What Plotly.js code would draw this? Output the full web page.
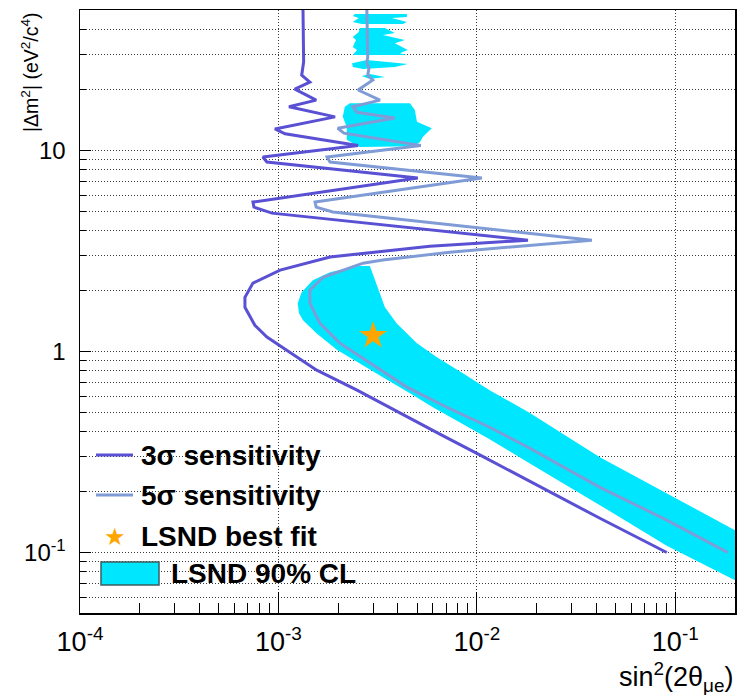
<!DOCTYPE html>
<html><head><meta charset="utf-8">
<script src="https://cdn.plot.ly/plotly-3.0.1.min.js"></script>
<style>html,body{margin:0;padding:0;background:#fff}#chart{width:737px;height:695px}</style>
</head><body><div id="chart"></div>
<script>
// ---- data (sin^2(2θ), |Δm^2| in eV^2) ----
const sens3X = [1.33e-3, 1.33e-3, 1.34e-3, 1.31e-3, 1.44e-3, 1.21e-3, 1.55e-3, 1.13e-3, 1.93e-3, 9.60e-4, 1.08e-3, 2.52e-3, 8.35e-4, 8.75e-4, 5.04e-3, 7.44e-4, 7.53e-4, 9.27e-4, 1.81e-2, 5.80e-3, 1.82e-3, 1.02e-3, 7.44e-4, 6.78e-4, 6.78e-4, 7.61e-4, 8.75e-4, 1.14e-3, 1.56e-3, 2.49e-3, 4.09e-3, 6.51e-3, 1.04e-2, 4.17e-2, 9.06e-2];
const sens3Y = [50, 35.5, 27.6, 23.7, 21.9, 20.2, 17.8, 16.5, 14.7, 12.8, 12.1, 10.6, 9.28, 8.76, 7.29, 5.54, 5.23, 4.88, 3.58, 3.34, 2.95, 2.54, 2.19, 1.86, 1.66, 1.35, 1.18, 0.992, 0.807, 0.642, 0.493, 0.388, 0.305, 0.148, 0.1];

const sens5X = [2.79e-3, 2.82e-3, 2.79e-3, 2.86e-3, 2.82e-3, 2.99e-3, 2.52e-3, 3.25e-3, 2.37e-3, 2.49e-3, 3.86e-3, 1.99e-3, 2.14e-3, 5.22e-3, 1.76e-3, 1.82e-3, 1.06e-2, 1.53e-3, 1.55e-3, 1.88e-3, 3.80e-2, 7.31e-3, 3.36e-3, 2.67e-3, 1.68e-3, 1.44e-3, 1.44e-3, 1.62e-3, 2.04e-3, 2.99e-3, 4.44e-3, 7.06e-3, 1.16e-2, 1.85e-2, 4.17e-2, 9.06e-2, 0.184];
const sens5Y = [50, 29.2, 27.2, 25.7, 23.7, 22.4, 20.0, 17.8, 16.5, 15.5, 14.5, 12.9, 12.2, 10.6, 9.28, 8.76, 7.29, 5.54, 5.23, 4.94, 3.58, 3.12, 2.85, 2.75, 2.34, 2.02, 1.74, 1.38, 1.10, 0.855, 0.665, 0.528, 0.420, 0.330, 0.211, 0.145, 0.1];

// LSND 90% CL allowed region: main band and high-Δm² islands
const lsndBandX = [2.49e-3, 1.82e-3, 1.49e-3, 1.31e-3, 1.25e-3, 1.27e-3, 1.33e-3, 1.56e-3, 1.97e-3, 2.49e-3, 3.36e-3, 4.60e-3, 6.00e-3, 7.93e-3, 1.16e-2, 1.85e-2, 4.17e-2, 9.06e-2, 0.2, 0.2, 9.06e-2, 4.17e-2, 1.85e-2, 1.16e-2, 8.50e-3, 6.29e-3, 4.99e-3, 3.95e-3, 3.44e-3, 3.21e-3, 3.03e-3, 2.89e-3];
const lsndBandY = [2.66, 2.48, 2.26, 1.97, 1.74, 1.55, 1.43, 1.23, 1.02, 0.885, 0.745, 0.620, 0.528, 0.452, 0.366, 0.277, 0.172, 0.108, 0.0727, 0.129, 0.197, 0.298, 0.495, 0.642, 0.780, 0.937, 1.10, 1.38, 1.66, 2.02, 2.34, 2.66];
const lsndIsland1X = [2.43e-3, 4.44e-3, 4.44e-3, 3.73e-3, 4.44e-3, 4.24e-3, 2.63e-3, 2.37e-3, 2.54e-3, 2.37e-3];
const lsndIsland1Y = [47.8, 47.8, 46.1, 45.6, 43.6, 42.6, 42.6, 43.6, 45.6, 46.7];
const lsndIsland2X = [2.57e-3, 3.44e-3, 3.86e-3, 3.36e-3, 4.34e-3, 3.86e-3, 4.49e-3, 4.09e-3, 4.44e-3, 2.37e-3, 2.49e-3, 2.37e-3, 2.46e-3, 2.37e-3, 2.54e-3];
const lsndIsland2Y = [40.7, 40.7, 38.4, 37.5, 35.5, 34.2, 31.6, 30.5, 29.9, 29.9, 31.6, 32.7, 35.5, 36.7, 38.9];
const lsndIsland3X = [2.35e-3, 2.79e-3, 4.49e-3, 3.86e-3, 2.67e-3, 2.37e-3];
const lsndIsland3Y = [27.2, 28.2, 26.9, 26.0, 25.4, 26.0];
const lsndIsland4X = [2.63e-3, 2.89e-3, 3.44e-3, 2.89e-3];
const lsndIsland4Y = [23.5, 24.0, 23.2, 22.7];
const lsndIsland5X = [2.29e-3, 4.60e-3, 4.87e-3, 4.99e-3, 5.93e-3, 5.35e-3, 5.16e-3, 4.76e-3, 2.57e-3, 2.21e-3, 2.21e-3, 2.11e-3, 2.16e-3];
const lsndIsland5Y = [17.2, 17.2, 15.9, 13.9, 12.9, 11.7, 11.0, 10.5, 10.4, 11.3, 13.1, 14.7, 16.5];

const bestFitX = [0.003];
const bestFitY = [1.2];

const xTickVals = [1e-4, 1e-3, 1e-2, 1e-1];
const xTickText = ['10<sup>-4</sup>', '10<sup>-3</sup>', '10<sup>-2</sup>', '10<sup>-1</sup>'];
const yTickVals = [0.1, 1, 10];
const yTickText = ['10<sup>-1</sup>', '1', '10'];
const legendLabels = ['3σ sensitivity', '5σ sensitivity', 'LSND best fit', 'LSND 90% CL'];

// ---- styling ----
const C3 = '#5a50d4', C5 = '#809cd7', CYAN = '#00e6ff', STAR = '#ffa500';
const FONT = 'Liberation Sans, Arial, Helvetica, sans-serif';
const X_MIN = 1e-4, X_MAX = 0.2, Y_MIN = 0.05, Y_MAX = 50;

function minorVals(lo, hi) {
  const out = [];
  for (let d = -5; d <= 2; d++) for (let k = 2; k <= 9; k++) {
    const v = k * Math.pow(10, d);
    if (v >= lo * 0.999 && v <= hi * 1.001) out.push(v);
  }
  return out;
}

// combine LSND polygons with gaps so each closes on itself
const islandsX = [lsndBandX, lsndIsland1X, lsndIsland2X, lsndIsland3X, lsndIsland4X, lsndIsland5X];
const islandsY = [lsndBandY, lsndIsland1Y, lsndIsland2Y, lsndIsland3Y, lsndIsland4Y, lsndIsland5Y];
const lsndX = [], lsndY = [];
islandsX.forEach((arr, i) => {
  if (i) { lsndX.push(null); lsndY.push(null); }
  lsndX.push(...arr, arr[0]); lsndY.push(...islandsY[i], islandsY[i][0]);
});

const traces = [
  {x: lsndX, y: lsndY, type: 'scatter', mode: 'lines', fill: 'toself', fillcolor: CYAN,
   line: {width: 0, color: CYAN}, connectgaps: false, name: legendLabels[3], showlegend: false, hoverinfo: 'skip'},
  {x: sens5X, y: sens5Y, type: 'scatter', mode: 'lines', line: {color: C5, width: 3},
   name: legendLabels[1], showlegend: false},
  {x: sens3X, y: sens3Y, type: 'scatter', mode: 'lines', line: {color: C3, width: 3},
   name: legendLabels[0], showlegend: false},
  {x: bestFitX, y: bestFitY, type: 'scatter', mode: 'markers',
   marker: {symbol: 'star', size: 21, color: STAR, line: {width: 0}},
   name: legendLabels[2], showlegend: false}
];

// plot-area pixel helpers for the hand-drawn legend (paper coordinates)
const L = 80, R = 2, T = 10, B = 82, W = 737, H = 695;
const pw = W - L - R, ph = H - T - B;
const px = v => (v - L) / pw;
const py = v => (H - B - v) / ph;

const gridDash = '1px,2px', gridCol = '#3a3a3a';

const layout = {
  width: W, height: H,
  margin: {l: L, r: R, t: T, b: B, pad: 0},
  paper_bgcolor: '#fff', plot_bgcolor: '#fff',
  showlegend: false,
  font: {family: FONT, color: '#000'},
  xaxis: {
    type: 'log', range: [Math.log10(X_MIN), Math.log10(X_MAX)],
    tickmode: 'array', tickvals: xTickVals, ticktext: xTickText,
    ticks: 'inside', ticklen: 21, tickwidth: 1, tickcolor: '#000',
    tickfont: {family: FONT, size: 27, color: '#000'}, ticklabelstandoff: 4,
    showgrid: true, gridcolor: gridCol, griddash: gridDash, gridwidth: 1,
    minor: {tickmode: 'array', tickvals: minorVals(X_MIN, X_MAX), ticks: 'inside', ticklen: 10,
            tickwidth: 1, tickcolor: '#000', showgrid: false},
    showline: true, linecolor: '#000', linewidth: 1.5, mirror: true, zeroline: false
  },
  yaxis: {
    type: 'log', range: [Math.log10(Y_MIN), Math.log10(Y_MAX)],
    tickmode: 'array', tickvals: yTickVals, ticktext: yTickText,
    ticks: 'inside', ticklen: 11, tickwidth: 1, tickcolor: '#000',
    tickfont: {family: FONT, size: 24, color: '#000'}, ticklabelstandoff: 8,
    showgrid: true, gridcolor: gridCol, griddash: gridDash, gridwidth: 1,
    minor: {tickmode: 'array', tickvals: minorVals(Y_MIN, Y_MAX), ticks: 'inside', ticklen: 6,
            tickwidth: 1, tickcolor: '#000', showgrid: true, gridcolor: gridCol, griddash: gridDash, gridwidth: 1},
    showline: true, linecolor: '#000', linewidth: 1.5, mirror: true, zeroline: false
  },
  shapes: [
    // white legend backgrounds hiding the grid
    {type: 'rect', xref: 'paper', yref: 'paper', x0: 0, x1: px(307), y0: py(558), y1: py(437),
     fillcolor: '#fff', line: {width: 0}, layer: 'between'},
    {type: 'rect', xref: 'paper', yref: 'paper', x0: 0, x1: px(425), y0: py(594), y1: py(558),
     fillcolor: '#fff', line: {width: 0}, layer: 'between'},
    // legend symbols
    {type: 'line', xref: 'paper', yref: 'paper', x0: px(96), x1: px(133), y0: py(455), y1: py(455),
     line: {color: C3, width: 3}},
    {type: 'line', xref: 'paper', yref: 'paper', x0: px(96), x1: px(133), y0: py(495), y1: py(495),
     line: {color: C5, width: 3}},
    {type: 'rect', xref: 'paper', yref: 'paper', x0: px(101), x1: px(159), y0: py(585), y1: py(562),
     fillcolor: CYAN, line: {color: '#3d5e60', width: 1.5}}
  ],
  annotations: [
    {xref: 'paper', yref: 'paper', x: px(139), y: py(455), xanchor: 'left', yanchor: 'middle', showarrow: false,
     text: '<b>' + legendLabels[0] + '</b>', font: {family: FONT, size: 28, color: '#000'}},
    {xref: 'paper', yref: 'paper', x: px(139), y: py(495), xanchor: 'left', yanchor: 'middle', showarrow: false,
     text: '<b>' + legendLabels[1] + '</b>', font: {family: FONT, size: 28, color: '#000'}},
    {xref: 'paper', yref: 'paper', x: px(139), y: py(536), xanchor: 'left', yanchor: 'middle', showarrow: false,
     text: '<b>' + legendLabels[2] + '</b>', font: {family: FONT, size: 28, color: '#000'}},
    {xref: 'paper', yref: 'paper', x: px(169), y: py(573), xanchor: 'left', yanchor: 'middle', showarrow: false,
     text: '<b>' + legendLabels[3] + '</b>', font: {family: FONT, size: 28, color: '#000'}},
    {xref: 'paper', yref: 'paper', x: px(115), y: py(537), xanchor: 'center', yanchor: 'middle', showarrow: false,
     text: '★', font: {family: 'DejaVu Sans', size: 24, color: STAR}},
    // axis titles
    {xref: 'paper', yref: 'paper', x: px(30), y: 1, xanchor: 'center', yanchor: 'top', showarrow: false,
     textangle: -90, text: '|Δm<sup>2</sup>| (eV<sup>2</sup>/c<sup>4</sup>)', font: {family: FONT, size: 19.5, color: '#000'}},
    {xref: 'paper', yref: 'paper', x: 1, y: py(677), xanchor: 'right', yanchor: 'middle', showarrow: false,
     text: 'sin<sup>2</sup>(2θ<sub>μe</sub>)', font: {family: FONT, size: 27, color: '#000'}}
  ]
};

Plotly.newPlot('chart', traces, layout, {staticPlot: true, displayModeBar: false});
</script>
</body></html>
